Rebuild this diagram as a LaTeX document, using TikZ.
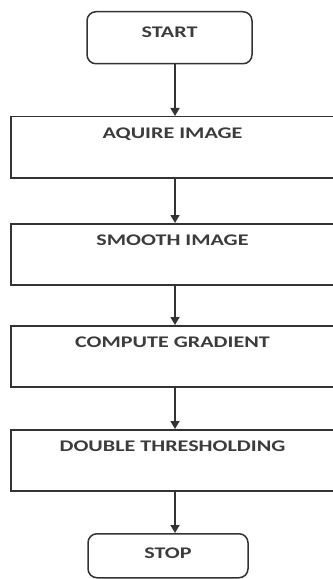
\documentclass[tikz,border=0pt]{standalone}
\usepackage{fontspec}
\setmainfont{Carlito}[FakeStretch=1.36]
\usepackage{tikz}
\usetikzlibrary{calc,arrows.meta}
\definecolor{fc-line}{HTML}{333333}
\definecolor{fc-text}{HTML}{3C3C3C}
\begin{document}
\begin{tikzpicture}[x=1bp, y=-1bp,
    every node/.style={font=\fontsize{16.3}{17}\selectfont\bfseries, text=fc-text},
    terminal/.style={draw=fc-line, line width=1.5bp, rounded corners=9bp, inner sep=0pt},
    process/.style={draw=fc-line, line width=1.5bp, inner sep=0pt, minimum width=323bp,
        text height=22bp, text depth=39bp},
    flow/.style={draw=fc-line, line width=1.4bp, -{Triangle[width=9bp,length=8bp]}}]
    \useasboundingbox (0,0) rectangle (332,579);
    \coordinate (axis) at (175,0);
    \node[terminal, minimum width=165bp, text height=26bp, text depth=26bp, anchor=north] (start) at (169.5,11) {START};
    \node[process, anchor=north] (acquire) at (172.5,116) {AQUIRE IMAGE};
    \node[process, anchor=north] (smooth) at (172.5,223) {SMOOTH IMAGE};
    \node[process, anchor=north] (gradient) at (172.5,325) {COMPUTE GRADIENT};
    \node[process, anchor=north] (threshold) at (172.5,429) {DOUBLE THRESHOLDING};
    \node[terminal, minimum width=160bp, text height=25bp, text depth=19bp, anchor=north] (stop) at (168,533) {STOP};
    % arrows
    \draw[flow] (start.south -| axis) -- (acquire.north -| axis);
    \draw[flow] (acquire.south -| axis) -- (smooth.north -| axis);
    \draw[flow] (smooth.south -| axis) -- (gradient.north -| axis);
    \draw[flow] (gradient.south -| axis) -- (threshold.north -| axis);
    \draw[flow] (threshold.south -| axis) -- (stop.north -| axis);
\end{tikzpicture}
\end{document}
